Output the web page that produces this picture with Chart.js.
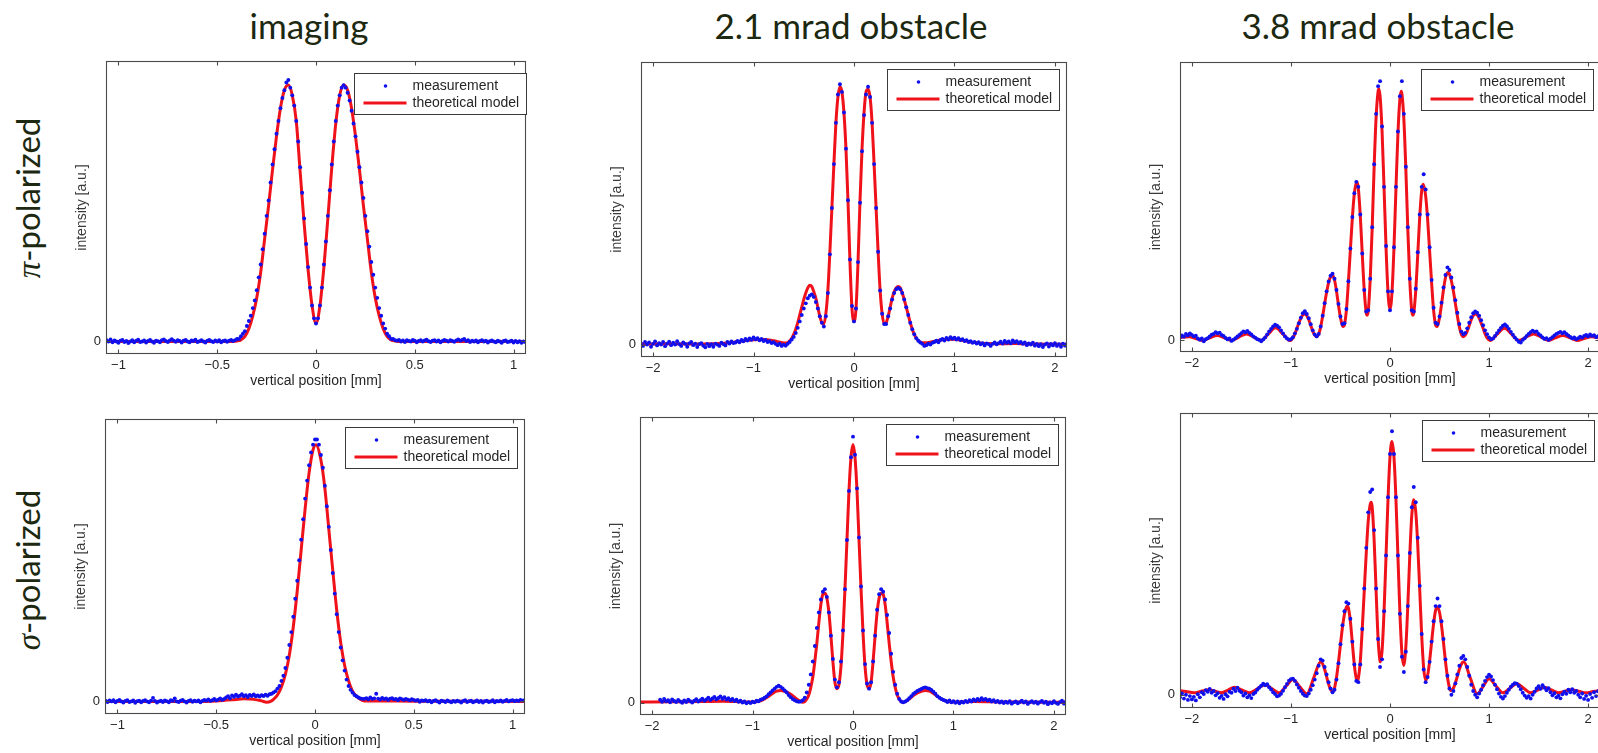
<!DOCTYPE html>
<html>
<head>
<meta charset="utf-8">
<script src="https://cdn.jsdelivr.net/npm/chart.js@4.4.1/dist/chart.umd.min.js"></script>
<style>
  html, body { margin: 0; padding: 0; background: #ffffff; }
  body { position: relative; width: 1598px; height: 753px; overflow: hidden; }
  canvas { position: absolute; }
  .coltitle { position: absolute; font-family: Lato, "Open Sans", sans-serif; font-size: 35px; line-height: 1; color: #1c2810; white-space: nowrap; transform: translateX(-50%); }
  .rowlabel { position: absolute; font-family: Lato, "Open Sans", sans-serif; font-size: 33px; line-height: 1; color: #1c2810; white-space: nowrap; transform: translate(-50%, -50%) rotate(-90deg); }
  .rowlabel i { font-family: "Liberation Serif", "DejaVu Serif", serif; font-style: italic; }
</style>
</head>
<body>
<script>
// ---------------- DATA ----------------
const columnTitles = ['imaging', '2.1 mrad obstacle', '3.8 mrad obstacle'];
const rowSymbols = ['π', 'σ'];
const rowSuffix = '-polarized';
const seriesLabels = ['measurement', 'theoretical model'];
const xAxisTitle = 'vertical position [mm]';
const yAxisTitle = 'intensity [a.u.]';

const xTicksImaging = [-1, -0.5, 0, 0.5, 1];
const xTickLabelsImaging = ['\u22121', '\u22120.5', '0', '0.5', '1'];
const xTicksObstacle = [-2, -1, 0, 1, 2];
const xTickLabelsObstacle = ['\u22122', '\u22121', '0', '1', '2'];
const yTicks = [0];
const yTickLabels = ['0'];

// measurement sampling grids (x of sample i = start + i*step)
const xStartImaging = -1.06, xStepImaging = 0.01;
const xStartObstacle = -2.12, xStepObstacle = 0.02;

// imaging, pi-polarized
const measImagingPi = [
0.5,0,0.8,-0.3,0.4,0,-0.5,0.3,0.6,-0.2,
0.2,-0.6,0,0.5,-0.3,0.3,0.7,-0.2,0,0.4,
-0.4,0.2,0.6,0,-0.5,0.3,0.1,-0.3,0.5,0.8,
0.2,-0.2,0.4,0.9,0.3,-0.1,0.5,0.2,-0.4,0.3,
0.6,0,-0.3,0.4,0.2,0.7,-0.2,0.1,0.5,0,
-0.4,0.3,0.6,0.1,-0.2,0.4,0,0.5,-0.3,0.2,
0.4,-0.1,0.3,0.6,0.2,0.5,
1,1,2,3,4,6,8,10,13,16,
20,25,30,36,42,49,55,62,69,75,
81,86,91,95,98,101,102,99,96,92,
86,78,68,58,48,38,29,21,14,9,
7,9,14,21,30,39,49,59,69,78,
86,92,96,99,100,99,97,94,90,85,
80,74,68,62,56,49,43,37,31,26,
21,17,13,10,7,5,3,2,1,1,
0.5,
0.3,0.6,0,0.4,-0.2,0.5,0.2,0,0.6,0.3,
-0.3,0.2,0.5,0,0.4,0.7,0.1,-0.2,0.3,0.5,
0,0.4,-0.3,0.2,0.6,0.3,0,0.5,0.2,-0.1,
0.4,0.8,0.3,0.6,1,0.2,0.5,-0.2,0.3,0,
0.4,-0.3,0.2,0.5,0,0.3,-0.4,0.1,0.4,0,
-0.3,0.3,0,-0.5,0.2,0.4,-0.2,0,0.3,-0.4,
0.2,-0.3,0.1,-0.5,0,-0.2
];
const modelImagingPi = [
[-1.063,0],[-0.44,0],[-0.40,0.2],[-0.38,0.6],[-0.36,2],[-0.34,5],[-0.32,10],[-0.30,17],[-0.28,27],[-0.26,40],
[-0.24,53],[-0.22,67],[-0.20,80],[-0.18,91],[-0.16,98],[-0.14,100],[-0.12,96],[-0.10,86],[-0.08,66],[-0.06,46],
[-0.04,28],[-0.02,14],[0,7],[0.02,14],[0.04,29],[0.06,48],[0.08,68],[0.10,85],[0.12,96],[0.14,100],
[0.16,98],[0.18,91],[0.20,80],[0.22,67],[0.24,53],[0.26,40],[0.28,27],[0.30,17],[0.32,10],[0.34,5],
[0.36,2],[0.38,0.6],[0.40,0.2],[0.44,0],[1.063,0]
];

// imaging, sigma-polarized
const measImagingSigma = [
0.3,-0.2,0.4,0,0.5,-0.3,0.2,0.6,0,-0.4,
0.2,0.5,-0.2,0,0.4,-0.5,0.1,0.3,-0.3,0.2,
0.5,0,-0.3,0.3,1.4,0.2,-0.4,0,0.3,-0.2,
0.4,0.1,-0.3,0.5,0.2,1.2,0,-0.2,0.3,0.6,
0,-0.4,0.2,0.5,-0.1,0.3,0,0.4,-0.3,0.2,
0.6,0.3,0.8,0.2,0.5,1,0.4,0.7,1.2,0.6,
1,
1.5,2,1.2,2.3,1.8,2.6,1.9,2.2,2.8,2,
2.4,1.7,2.5,2.1,2.7,2,2.3,1.9,2.4,2.1,
2.6,2.2,2.8,
3,3.5,4,5,6,8,10,13,17,22,
27,33,40,47,55,63,71,79,86,92,
97,100,102,102,100,96,91,84,76,68,
59,50,42,34,27,21,16,12,8.5,6,
4.5,3.5,2.5,2,1.5,1.2,1,
1,1.3,0.8,1.5,1,1.2,3,1.1,0.7,1.4,
0.9,1.2,0.6,1.1,1.3,0.8,1,0.5,1.2,0.9,
0.6,1,0.7,0.4,0.9,0.6,
0.3,0.6,-0.1,0.4,0.2,0.5,0,0.3,-0.3,0.2,
0.5,0,-0.4,0.3,0.1,-0.2,0.4,0,-0.3,0.2,
-0.1,0.3,0,-0.4,0.2,0.5,-0.2,0.1,0.3,-0.3,
0,0.4,-0.2,0.2,-0.4,0.1,0.3,-0.2,0,0.5,
-0.3,0.2,0,0.4,-0.1,0.2,0.6,0,0.3,0.5,
0.1,0.4,0.2,0.6,0.3,0.5
];
const modelImagingSigma = [
[-1.063,0],[-0.6,0],[-0.5,0.2],[-0.42,0.6],[-0.36,1],[-0.31,0.8],[-0.27,0.2],[-0.245,-0.3],[-0.225,0],[-0.21,0.8],
[-0.19,2.5],[-0.17,5.6],[-0.15,10.5],[-0.13,18],[-0.11,29],[-0.09,43],[-0.07,59],[-0.05,75],[-0.03,89],[-0.01,98],
[0.005,100],[0.03,94],[0.05,83],[0.07,67],[0.09,51],[0.11,35.5],[0.13,23],[0.15,14],[0.17,8],[0.19,4],
[0.21,2],[0.23,0.8],[0.25,0.2],[0.3,0.2],[0.5,0.1],[1.063,0]
];

// 2.1 mrad obstacle, pi-polarized
const measObst21Pi = [
0.5,-0.5,1,0,0.8,-0.8,0.3,1.2,-0.3,0.6,
0,1,-0.6,0.4,1.1,-0.2,0.7,0,1.3,0.2,
-0.5,0.8,0.3,-0.8,0.5,1,-0.2,0.4,-0.9,0.2,
0.6,-0.4,-1,0.3,-0.6,0.2,-0.8,0.4,0,-0.5,
0.7,0.2,-0.3,1,0.4,1.2,0.6,
0.8,1.4,0.9,1.8,1.3,2.2,1.6,2.4,1.9,2.8,
2.1,2.5,1.7,2.2,1.4,1.8,1,1.3,0.6,0.9,
0.3,-0.2,0.4,-0.5,0,-0.4,0.3,
1,2,3,4.5,6.5,9,11.5,14,16,18,
19,19.5,18.5,16.5,14,11,8.5,7,11,20,
35,53,70,86,97,101,98,90,76,56,
33,15,9,14,32,55,75,89,97,100,
96,86,70,53,36,21,12,8,8,11,
14,17.5,20,21.5,22,21.5,20,17.5,14.5,11.5,
8.5,6,4,2.5,1.5,0.8,0.3,-0.5,-0.2,0.4,0,0.7,
1,1.5,0.9,1.8,2.2,1.6,2.6,2,2.9,2.3,
2.7,2,2.5,1.8,2.1,1.4,1.7,1,1.3,0.7,1,
0.4,0.9,0.1,0.6,-0.3,0.5,0.2,-0.5,0.3,0.8,
0.1,0.6,1.1,0.4,1.4,0.7,1.2,0.5,1.6,0.9,
1.3,0.6,1,0.3,0.8,-0.2,0.5,0,0.7,-0.4,
0.3,-0.6,0.2,-0.9,0,0.5,-0.7,0.3,-0.3,0.6,
-0.5,0.2,-0.8,0.4,-0.4,0.3
];
const modelObst21Pi = [
[-2.12,0.2],[-1.8,0.3],[-1.5,0.2],[-1.3,0.5],[-1.15,1.2],[-1.0,1.9],[-0.9,2],[-0.8,1.5],[-0.72,0.8],[-0.68,0.6],
[-0.66,0.8],[-0.64,1.5],[-0.62,2.5],[-0.60,4],[-0.58,6],[-0.56,8.5],[-0.54,11.5],[-0.52,14.5],[-0.50,17.5],[-0.48,20],
[-0.46,22],[-0.44,23],[-0.42,22.5],[-0.40,20.5],[-0.38,18],[-0.36,14.5],[-0.34,11],[-0.32,8.5],[-0.30,8],[-0.28,12],
[-0.26,21],[-0.24,36],[-0.22,53],[-0.20,70],[-0.18,86],[-0.16,96],[-0.14,100],[-0.12,98],[-0.10,90],[-0.08,76],
[-0.06,56],[-0.04,32],[-0.02,14],[0,9],[0.02,14],[0.04,32],[0.06,56],[0.08,76],[0.10,90],[0.12,98],
[0.14,99],[0.16,96],[0.18,86],[0.20,70],[0.22,53],[0.24,36],[0.26,21],[0.28,12],[0.30,8],[0.32,8.5],
[0.34,11],[0.36,14.5],[0.38,18],[0.40,20.5],[0.42,22],[0.44,22.5],[0.46,22],[0.48,20],[0.50,17.5],[0.52,14.5],
[0.54,11.5],[0.56,8.5],[0.58,6],[0.60,4],[0.62,2.5],[0.64,1.5],[0.66,1],[0.70,0.7],[0.80,1.3],[0.90,2],
[1.00,2.1],[1.10,1.5],[1.20,0.8],[1.40,0.3],[1.60,0.4],[1.80,0.2],[2.12,0.1]
];

// 2.1 mrad obstacle, sigma-polarized (no measurement below about -1.93 mm)
const measObst21Sigma = [
null,null,null,null,null,null,null,null,null,null,
1.2,0.4,1.5,0.6,1,0.2,1.3,0.7,0.3,1.1,
0.5,0,0.9,0.3,1.2,0.6,0.1,0.8,1.4,0.5,
1,1.6,0.8,1.3,2,1.1,1.7,2.3,1.4,1.9,
2.5,1.6,2.2,1.3,1.8,1,1.5,0.7,1.2,0.4,
0.8,0.1,0.5,-0.2,0.3,-0.1,0.4,0.2,0.8,0.6,
1.2,
1.5,2,2.5,3.3,4,4.8,5.5,6.2,6.6,6.2,
5.6,4.8,4,3,2.2,1.5,1,0.6,0.4,0.5,
1,2,4,7,11,16,22,29,35,40,
43,44,41,35,26,17,9,6,8,16,
28,44,63,82,95,103,96,83,64,45,
28,15,7.5,5.5,8,16,26,36,42,44,
43,40,34,27,19,12,7,3.5,1.5,0.5,
0.2,0.5,1,1.8,2.6,3.4,4,4.6,5,5.4,
5.8,6,5.7,5.5,5,4.3,3.5,2.6,2,1.5,1.1,
0.8,0.3,0.9,0.2,0.6,0,0.5,-0.2,0.4,0.1,
0.7,0.3,1,0.5,1.3,0.8,1.5,1,1.8,1.2,
1.5,0.9,1.2,0.5,1,0.3,0.7,0.1,0.5,-0.1,
0.4,0,0.6,-0.3,0.2,0.5,-0.2,0.3,0.8,0.1,
0.5,-0.4,0.2,0.6,0,0.4,-0.3,0.3,0.7,0,
0.4,-0.5,0.2,-0.2,0.6,0,-0.4,0.3,0.8,-0.3,
0.5
];
const modelObst21Sigma = [
[-2.12,0.3],[-1.8,0.4],[-1.5,0.5],[-1.3,0.6],[-1.1,0.4],[-1.0,0.3],[-0.92,0.8],[-0.88,1.5],[-0.84,2.5],[-0.80,3.6],
[-0.76,4.5],[-0.72,4.8],[-0.68,4.5],[-0.64,3.8],[-0.60,2.8],[-0.56,1.5],[-0.52,0.5],[-0.50,0.2],[-0.48,0.5],[-0.46,1.5],
[-0.44,3],[-0.42,6],[-0.40,10],[-0.38,16],[-0.36,23],[-0.34,31],[-0.32,38],[-0.30,42],[-0.28,42.5],[-0.26,40.5],
[-0.24,35],[-0.22,26],[-0.20,16],[-0.18,8],[-0.16,5.5],[-0.14,7],[-0.12,14],[-0.10,27],[-0.08,44],[-0.06,63],
[-0.04,82],[-0.02,95],[0,100],[0.02,95],[0.04,82],[0.06,63],[0.08,44],[0.10,27],[0.12,14],[0.14,7],
[0.16,5.5],[0.18,8],[0.20,16],[0.22,26],[0.24,35],[0.26,40.5],[0.28,42.5],[0.30,42],[0.32,38],[0.34,31],
[0.36,23],[0.38,16],[0.40,10],[0.42,6],[0.44,3],[0.46,1.5],[0.48,0.5],[0.50,0.2],[0.52,0.5],[0.56,1.5],
[0.60,2.8],[0.64,3.8],[0.68,4.5],[0.72,4.8],[0.76,4.5],[0.80,3.6],[0.84,2.5],[0.88,1.5],[0.92,0.8],[1.0,0.3],
[1.2,0.5],[1.4,0.4],[1.6,0.3],[2.12,0.2]
];

// 3.8 mrad obstacle, pi-polarized
const measObst38Pi = [
1.2,2,1.5,2.6,2,2.8,2.2,1.6,1.9,0.8,
0.3,0.8,-0.3,0.5,0.9,1.6,2.3,2.6,3.3,2.8,
3.1,2.2,1.8,1,0.4,0.8,-0.2,0.3,0.9,1.6,
2.2,2.9,3.6,3.2,3.8,3,2.4,1.6,1.1,0.5,
0.2,-0.3,0.4,1.2,2.4,3.6,4.6,5.5,6.2,5.8,
5.2,4,2.8,1.6,0.8,0.3,0.5,1.3,2.8,4.6,6.8,
9,10.8,11.6,10.5,8.8,6.4,4,2.4,1.6,2.6,
5.5,9.8,14.8,19.5,23.4,25.7,26.5,24.5,20,14.5,
9.5,6.5,6.8,12.5,23.5,36.5,49,58.5,63,61,
50,34.5,20,11.5,12,24.5,45,70,90,101,
103,85,61,37.5,19.5,12,19.5,37,61,83,
97,103,90,69,45,24.5,12,11.5,20.5,35,
50,61,66,60,50,37,24,13,7,6.5,
9.5,15,21,26,29,28,25,21,16,11,
6.5,3.5,2.5,3,4.8,7,9.2,10.8,11.5,11,9.8,
8,6,4,2.5,1.2,0.5,0.8,1.8,2.9,4,
5,5.8,6.3,5.6,4.6,3.4,2.3,1.2,0.3,-0.5,
-0.8,0.2,0.9,1.8,2.6,3.3,3.9,3.4,3.6,2.6,
2,1.2,0.6,0.9,0.2,0.7,1.3,2,2.6,3,
3.4,2.8,3.3,2.6,2,1.4,0.8,1.2,0.5,0.9,
1.5,1.1,1.8,2.2,1.6,2.4,1.8,2.1,1.3,1.7,1.2
];
const modelObst38Pi = [
[-2.14,1],[-2.03,1.5],[-1.96,0.75],[-1.89,0],[-1.82,1],[-1.745,2],[-1.67,1],[-1.6,0],[-1.525,1.3],[-1.45,2.6],
[-1.375,1.3],[-1.30,0],[-1.23,2.5],[-1.155,5],[-1.08,2.5],[-1.01,0],[-1.00,0.1],[-0.98,1],[-0.96,2.6],[-0.94,4.8],
[-0.92,6.9],[-0.90,8.9],[-0.88,10.1],[-0.862,10.5],[-0.84,9.8],[-0.82,8.2],[-0.80,5.9],[-0.78,3.7],[-0.76,2.1],[-0.74,1.5],
[-0.72,2.5],[-0.70,5.3],[-0.68,9.6],[-0.66,14.5],[-0.64,19.1],[-0.62,23],[-0.60,25.3],[-0.583,26],[-0.56,24],[-0.54,19.5],
[-0.52,14],[-0.50,9],[-0.48,5.9],[-0.47,5.5],[-0.46,6.2],[-0.44,12],[-0.42,23.3],[-0.40,36],[-0.38,48.7],[-0.36,58.3],
[-0.335,63],[-0.32,60.5],[-0.30,49.7],[-0.28,34.3],[-0.26,19.9],[-0.24,11],[-0.23,10],[-0.22,11.6],[-0.20,24],[-0.18,44.5],
[-0.16,69],[-0.14,88.8],[-0.12,99],[-0.113,100],[-0.10,97],[-0.08,83],[-0.06,60.5],[-0.04,37],[-0.02,19],[0,12.5],
[0.02,19],[0.04,36.6],[0.06,60],[0.08,82],[0.10,96],[0.113,99],[0.12,98],[0.14,87.8],[0.16,68],[0.18,44],
[0.20,23.7],[0.22,11.6],[0.23,10],[0.24,11],[0.26,19.8],[0.28,34],[0.30,49],[0.32,59.5],[0.335,62],[0.36,57.4],
[0.38,48],[0.40,35.5],[0.42,23],[0.44,12],[0.46,6.2],[0.47,5.5],[0.48,5.9],[0.50,9],[0.52,14.3],[0.54,20.1],
[0.56,24.9],[0.583,27],[0.60,26.3],[0.62,23.6],[0.64,19.5],[0.66,14.7],[0.68,9.7],[0.70,5.4],[0.72,2.5],[0.74,1.5],
[0.76,2.1],[0.78,3.7],[0.80,5.9],[0.82,8.2],[0.84,9.8],[0.862,10.5],[0.88,10.1],[0.90,8.9],[0.92,6.9],[0.94,4.8],
[0.96,2.6],[0.98,1],[1.01,0],[1.08,2.4],[1.155,4.8],[1.23,2.4],[1.30,0],[1.375,1.3],[1.45,2.6],[1.525,1.3],
[1.60,0],[1.67,1],[1.745,2],[1.82,1],[1.89,0],[1.96,0.75],[2.03,1.5],[2.14,0.8]
];

// 3.8 mrad obstacle, sigma-polarized
const measObst38Sigma = [
-1,0.5,-1.5,0,-2,-0.5,-1.8,-0.8,-2.2,0.2,
-1,1,0.3,1.8,1.2,2.3,0.8,1.5,-0.2,0.6,
-1.2,-0.4,-1.6,0.2,-0.6,1.2,0.8,2.4,1.5,2.8,
1.6,1,-0.3,0.5,-1,-0.2,-1.3,0.3,0.9,2,
2.8,3.6,4.4,3.8,4.2,3,2.1,1,0.3,-0.6,
-0.3,0.4,1.6,3,4.3,5.6,6.2,6.4,5.5,4.1,2.8,
1.5,0.4,-0.3,-0.5,0.5,2,3.8,6,8.5,11.5,
14,13.5,11,8,5,2.5,1,2,6,12.5,
20,27.5,33,36.5,36,30,21,12,5.5,5,
12,26,42,58,72,80,81,65,42,22,
11,14,33,55,78,95,104,95,78,55,
32,15,9,17,35,56,74,82,76,62,
43,24,10,5,7,13,21,29,35,38,
35,29,22,14,7.5,2.5,0,1.5,4.5,8,
11.5,14.5,15.3,14,11,7.5,4,1.5,0,-1,0.5,
2,3.8,5.5,7,7.9,7.2,5.8,4,2.2,0.5,
-0.8,-1.5,-0.5,0.8,2,3.2,4,4.6,4.4,3.5,
2.2,0.8,-0.3,-1.2,-0.5,-1.5,0,1.2,2.5,3.4,
2.4,3.8,2.8,1.8,2.6,1,-0.2,0.6,-1,-0.3,
-1.4,0.2,1.2,0.4,2,1,2.2,0.8,1.5,0,
-1,0.5,-1.6,-0.4,-2,0.3,-1.2,1,-0.5,1.4,0.2
];
const modelObst38Sigma = [
[-2.14,1.7],[-2.06,1.3],[-1.98,0.8],[-1.905,1.4],[-1.83,2],[-1.765,1.4],[-1.70,0.8],[-1.635,1.9],[-1.57,3],[-1.495,1.9],
[-1.42,0.8],[-1.34,2.4],[-1.26,4],[-1.19,2.4],[-1.12,0.8],[-1.05,3.4],[-0.98,6],[-0.91,3.2],[-0.84,0.4],[-0.77,6.7],
[-0.70,13],[-0.68,12.2],[-0.66,10.1],[-0.64,7.15],[-0.62,4.2],[-0.60,2.1],[-0.58,1.3],[-0.56,2.7],[-0.54,6.9],[-0.52,12.9],
[-0.50,19.9],[-0.48,26.6],[-0.46,31.8],[-0.44,34.6],[-0.43,35],[-0.42,34.3],[-0.40,29],[-0.38,20.4],[-0.36,11.7],[-0.34,6.4],
[-0.33,5.7],[-0.32,6.5],[-0.30,13.2],[-0.28,26.1],[-0.26,40.9],[-0.24,55.7],[-0.22,68.5],[-0.20,75.1],[-0.19,76],[-0.18,74.2],
[-0.16,60.9],[-0.14,40.7],[-0.12,22],[-0.10,13.2],[-0.097,13],[-0.08,17.4],[-0.06,33],[-0.04,54.8],[-0.02,77.2],[0,93.9],
[0.02,100],[0.04,94],[0.06,77.2],[0.08,54.7],[0.10,32.4],[0.12,16.6],[0.138,11.6],[0.16,18.9],[0.18,35.4],[0.20,55.2],
[0.22,70.9],[0.24,77],[0.26,72.2],[0.28,59.2],[0.30,41.4],[0.32,23.5],[0.34,10.5],[0.36,5.7],[0.38,7.7],[0.40,13.3],
[0.42,20.8],[0.44,28],[0.46,33.3],[0.477,34.7],[0.50,32.6],[0.52,27.4],[0.54,20.6],[0.56,13.2],[0.58,7],[0.60,2.8],
[0.616,1.7],[0.64,2.6],[0.66,4.7],[0.68,7.35],[0.70,10],[0.72,12.1],[0.744,13],[0.81,6.7],[0.88,0.4],[0.94,3.3],
[1.0,6.3],[1.07,3.5],[1.14,0.8],[1.21,2.6],[1.28,4.4],[1.35,2.6],[1.42,0.8],[1.49,1.9],[1.56,3],[1.63,1.9],
[1.70,0.8],[1.765,1.4],[1.83,2],[1.905,1.4],[1.98,0.8],[2.05,1.3],[2.14,1.7]
];

// ---------------- LAYOUT / STYLE ----------------
const FONT = '"Liberation Sans", Arial, Helvetica, sans-serif';
const TEXT_COLOR = '#262626';
const FRAME_COLOR = '#4a4a4a';
const BLUE = '#1010ee';
const RED = 'rgb(240,18,26)';
const Y_AXIS_W = 34, X_AXIS_H = 36, PAD_T = 2, PAD_R = 2;

const panels = [
  { meas: measImagingPi, model: modelImagingPi, x0: xStartImaging, dx: xStepImaging,
    xmin: -1.063, xmax: 1.063, ticks: xTicksImaging, tickLabels: xTickLabelsImaging,
    ymin: -4.9, ymax: 109.4, area: {l: 106, t: 61, r: 526, b: 354}, legend: {r: 0, t: 12} },
  { meas: measObst21Pi, model: modelObst21Pi, x0: xStartObstacle, dx: xStepObstacle,
    xmin: -2.12, xmax: 2.12, ticks: xTicksObstacle, tickLabels: xTickLabelsObstacle,
    ymin: -4.8, ymax: 109.6, area: {l: 641, t: 62, r: 1067, b: 357}, legend: {r: 8, t: 7} },
  { meas: measObst38Pi, model: modelObst38Pi, x0: xStartObstacle, dx: xStepObstacle,
    xmin: -2.12, xmax: 2.12, ticks: xTicksObstacle, tickLabels: xTickLabelsObstacle,
    ymin: -4.6, ymax: 110.6, area: {l: 1180, t: 62, r: 1600, b: 352}, legend: {r: 7, t: 7} },
  { meas: measImagingSigma, model: modelImagingSigma, x0: xStartImaging, dx: xStepImaging,
    xmin: -1.063, xmax: 1.063, ticks: xTicksImaging, tickLabels: xTickLabelsImaging,
    ymin: -4.9, ymax: 110, area: {l: 105, t: 419, r: 525, b: 714}, legend: {r: 8, t: 8} },
  { meas: measObst21Sigma, model: modelObst21Sigma, x0: xStartObstacle, dx: xStepObstacle,
    xmin: -2.12, xmax: 2.12, ticks: xTicksObstacle, tickLabels: xTickLabelsObstacle,
    ymin: -4.7, ymax: 110.6, area: {l: 640, t: 417, r: 1066, b: 715}, legend: {r: 8, t: 7} },
  { meas: measObst38Sigma, model: modelObst38Sigma, x0: xStartObstacle, dx: xStepObstacle,
    xmin: -2.12, xmax: 2.12, ticks: xTicksObstacle, tickLabels: xTickLabelsObstacle,
    ymin: -5.2, ymax: 111.2, area: {l: 1180, t: 413, r: 1600, b: 708}, legend: {r: 6, t: 7} }
];
const titlePos = [{x: 309, y: 8}, {x: 851, y: 8}, {x: 1378, y: 8}];
const rowPos = [{x: 28, y: 198}, {x: 28, y: 570}];

// ---------------- TEXT ----------------
columnTitles.forEach((t, i) => {
  const d = document.createElement('div');
  d.className = 'coltitle';
  d.textContent = t;
  d.style.left = titlePos[i].x + 'px';
  d.style.top = titlePos[i].y + 'px';
  document.body.appendChild(d);
});
rowSymbols.forEach((s, i) => {
  const d = document.createElement('div');
  d.className = 'rowlabel';
  const it = document.createElement('i');
  it.textContent = s;
  d.appendChild(it);
  d.appendChild(document.createTextNode(rowSuffix));
  d.style.left = rowPos[i].x + 'px';
  d.style.top = rowPos[i].y + 'px';
  document.body.appendChild(d);
});

// ---------------- PLUGINS ----------------
const framePlugin = {
  id: 'matlabFrame',
  afterDatasetsDraw(chart) {
    const {ctx, chartArea: a, scales} = chart;
    const L = Math.round(a.left) + 0.5, R = Math.round(a.right) - 0.5;
    const T = Math.round(a.top) + 0.5, B = Math.round(a.bottom) - 0.5;
    ctx.save();
    ctx.strokeStyle = FRAME_COLOR;
    ctx.lineWidth = 1.1;
    ctx.strokeRect(L, T, R - L, B - T);
    const tl = 4;
    ctx.beginPath();
    scales.x.ticks.forEach(t => {
      const px = Math.round(scales.x.getPixelForValue(t.value)) + 0.5;
      ctx.moveTo(px, B); ctx.lineTo(px, B - tl);
      ctx.moveTo(px, T); ctx.lineTo(px, T + tl);
    });
    scales.y.ticks.forEach(t => {
      const py = Math.round(scales.y.getPixelForValue(t.value)) + 0.5;
      ctx.moveTo(L, py); ctx.lineTo(L + tl, py);
      ctx.moveTo(R, py); ctx.lineTo(R - tl, py);
    });
    ctx.stroke();
    ctx.restore();
  }
};
const boxLegendPlugin = {
  id: 'boxLegend',
  afterDraw(chart, args, opts) {
    const {ctx, chartArea: a} = chart;
    const w = 172, h = 41;
    const x = Math.round(a.right - opts.r - w) + 0.5;
    const y = Math.round(a.top + opts.t) + 0.5;
    const ds = chart.data.datasets;
    ctx.save();
    ctx.fillStyle = '#ffffff';
    ctx.fillRect(x, y, w, h);
    ctx.strokeStyle = '#3a3a3a';
    ctx.lineWidth = 1;
    ctx.strokeRect(x, y, w, h);
    ctx.fillStyle = ds[0].pointBackgroundColor;
    ctx.beginPath();
    ctx.arc(x + 31, y + 12.5, 1.8, 0, Math.PI * 2);
    ctx.fill();
    ctx.strokeStyle = ds[1].borderColor;
    ctx.lineWidth = 3;
    ctx.beginPath();
    ctx.moveTo(x + 9, y + 29.5);
    ctx.lineTo(x + 52, y + 29.5);
    ctx.stroke();
    ctx.fillStyle = TEXT_COLOR;
    ctx.font = '14px ' + FONT;
    ctx.textBaseline = 'middle';
    ctx.textAlign = 'left';
    ctx.fillText(ds[0].label, x + 58, y + 12.5);
    ctx.fillText(ds[1].label, x + 58, y + 29.5);
    ctx.restore();
  }
};

// ---------------- CHARTS ----------------
function measPoints(values, x0, dx) {
  const pts = [];
  values.forEach((v, i) => { if (v !== null) pts.push({x: +(x0 + i * dx).toFixed(4), y: v}); });
  return pts;
}
function modelPoints(pairs) { return pairs.map(p => ({x: p[0], y: p[1]})); }
function noPad(s) { s.paddingTop = 0; s.paddingBottom = 0; s.paddingLeft = 0; s.paddingRight = 0; }

panels.forEach(p => {
  const cv = document.createElement('canvas');
  const left = p.area.l - Y_AXIS_W, top = p.area.t - PAD_T;
  const w = p.area.r - p.area.l + Y_AXIS_W + PAD_R;
  const h = p.area.b - p.area.t + PAD_T + X_AXIS_H;
  cv.width = w; cv.height = h;
  cv.style.left = left + 'px'; cv.style.top = top + 'px';
  cv.style.width = w + 'px'; cv.style.height = h + 'px';
  document.body.appendChild(cv);
  new Chart(cv, {
    type: 'line',
    data: {
      datasets: [
        { label: seriesLabels[0], data: measPoints(p.meas, p.x0, p.dx), showLine: false,
          pointRadius: 1.95, pointHoverRadius: 0, pointBorderWidth: 0,
          pointBackgroundColor: BLUE, backgroundColor: BLUE, borderColor: BLUE },
        { label: seriesLabels[1], data: modelPoints(p.model), showLine: true,
          pointRadius: 0, pointHoverRadius: 0, borderColor: RED, borderWidth: 3,
          cubicInterpolationMode: 'monotone', fill: false }
      ]
    },
    options: {
      responsive: false, animation: false, events: [], devicePixelRatio: 1,
      layout: { padding: { top: PAD_T, right: PAD_R, left: 0, bottom: 0 } },
      plugins: { legend: { display: false }, tooltip: { enabled: false }, boxLegend: p.legend },
      scales: {
        x: {
          type: 'linear', min: p.xmin, max: p.xmax,
          afterBuildTicks: ax => { ax.ticks = p.ticks.map(v => ({value: v})); },
          afterFit: s => { s.height = X_AXIS_H; noPad(s); },
          ticks: { autoSkip: false, maxRotation: 0, padding: 4, color: TEXT_COLOR,
                   font: { family: FONT, size: 13 },
                   callback: v => p.tickLabels[p.ticks.indexOf(v)] },
          grid: { display: false, drawTicks: false },
          border: { display: false },
          title: { display: true, text: xAxisTitle, color: TEXT_COLOR,
                   font: { family: FONT, size: 14 }, padding: { top: 0, bottom: 0 } }
        },
        y: {
          type: 'linear', min: p.ymin, max: p.ymax,
          afterBuildTicks: ax => { ax.ticks = yTicks.map(v => ({value: v})); },
          afterFit: s => { s.width = Y_AXIS_W; noPad(s); },
          ticks: { padding: 5, color: TEXT_COLOR, font: { family: FONT, size: 13 },
                   callback: v => yTickLabels[yTicks.indexOf(v)] },
          grid: { display: false, drawTicks: false },
          border: { display: false },
          title: { display: true, text: yAxisTitle, color: '#3a3a3a',
                   font: { family: FONT, size: 14 }, padding: { top: 2, bottom: 0 } }
        }
      }
    },
    plugins: [framePlugin, boxLegendPlugin]
  });
});

const lengthCheck = {measImagingPi, measImagingSigma, measObst21Pi, measObst21Sigma, measObst38Pi, measObst38Sigma};
const bad = Object.entries(lengthCheck).filter(([k, v]) => v.length !== 213).map(([k, v]) => k + ':' + v.length);
if (bad.length) throw new Error('length mismatch ' + bad.join(', '));
</script>
</body>
</html>
